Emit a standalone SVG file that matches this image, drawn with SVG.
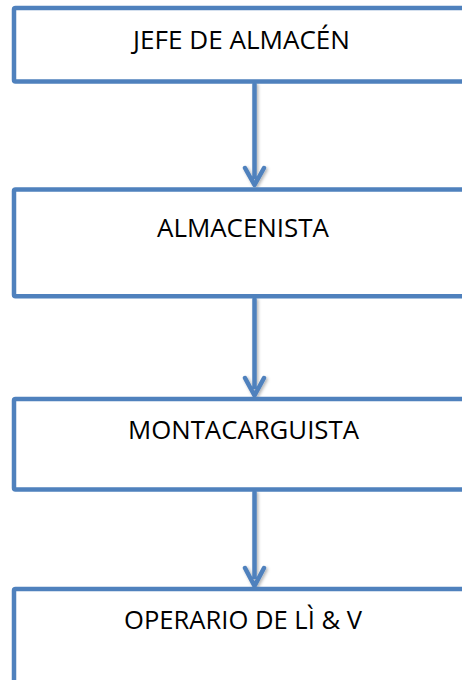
<svg xmlns="http://www.w3.org/2000/svg" width="462" height="680" viewBox="0 0 462 680">
  <defs>
    <filter id="shadow" x="-50%" y="-10%" width="200%" height="130%">
      <feDropShadow dx="1.5" dy="1.5" stdDeviation="1.5" flood-color="#000" flood-opacity="0.3"/>
    </filter>
    <style>
      .box { fill: #ffffff; stroke: #4f81bd; stroke-width: 4.5; }
      .lbl { font-family: "Open Sans", "Liberation Sans", sans-serif; font-size: 26px; fill: #000; text-anchor: middle; }
      .conn { fill: none; stroke: #4f81bd; stroke-width: 4.5; stroke-linecap: round; stroke-linejoin: round; filter: url(#shadow); }
    </style>
  </defs>
  <rect width="462" height="680" fill="#ffffff"/>

  <!-- connectors between levels -->
  <g id="connectors">
    <path class="conn" d="M254.5 84 V177 M245 168 L254.5 185 L264 168"/>
    <path class="conn" d="M254.5 299 V387 M245 378 L254.5 395.5 L264 378"/>
    <path class="conn" d="M254.5 492 V577 M245 568 L254.5 586 L264 568"/>
  </g>

  <g id="jefe">
    <rect class="box" x="14" y="8" width="480" height="73.5" rx="1.5"/>
    <text class="lbl" x="241.5" y="49" textLength="217" lengthAdjust="spacingAndGlyphs">JEFE DE ALMACÉN</text>
  </g>

  <g id="almacenista">
    <rect class="box" x="14" y="189.5" width="480" height="106.8" rx="1.5"/>
    <text class="lbl" x="243" y="237" textLength="172" lengthAdjust="spacingAndGlyphs">ALMACENISTA</text>
  </g>

  <g id="montacarguista">
    <rect class="box" x="14" y="399" width="480" height="90.5" rx="1.5"/>
    <text class="lbl" x="243.5" y="439" textLength="231" lengthAdjust="spacingAndGlyphs">MONTACARGUISTA</text>
  </g>

  <g id="operario">
    <rect class="box" x="14" y="589" width="480" height="120" rx="1.5"/>
    <text class="lbl" x="243" y="629" textLength="238" lengthAdjust="spacingAndGlyphs">OPERARIO DE LÌ &amp; V</text>
  </g>
</svg>
